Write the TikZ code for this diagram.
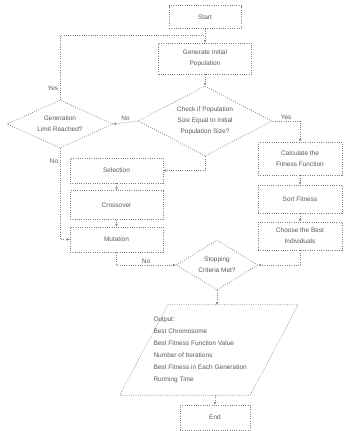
\documentclass[tikz,border=0pt]{standalone}
\usepackage{fontspec}
\setmainfont{Liberation Sans}
\usetikzlibrary{shapes.geometric,arrows.meta,calc}
\begin{document}
\begin{tikzpicture}[x=1pt,y=-1pt,
  ln/.style={draw=black!50, line width=0.75pt, dash pattern=on 0.75pt off 1.5pt},
  txt/.style={font=\fontsize{6.5}{11}\selectfont, text=black!65},
  proc/.style={ln, txt, rectangle, inner sep=1pt, align=center},
  dec/.style={ln, txt, diamond, inner sep=0pt, align=center},
  arr/.style={ln, -{Stealth[length=3pt,width=2.6pt]}},
  lbl/.style={txt, inner sep=1.5pt}]
\useasboundingbox (0,0) rectangle (343,431);
% nodes
\node[proc, minimum width=72pt, minimum height=23pt] (start) at (205,17) {Start};
\node[proc, minimum width=93pt, minimum height=31pt] (gen) at (205,58.5) {Generate Initial\\Population};
\node[dec, aspect=1.9, minimum width=134pt, minimum height=70pt] (cd) at (205,121) {Check if Population\\Size Equal to Initial\\Population Size?};
\node[dec, aspect=2.2, minimum width=106pt, minimum height=48pt] (ld) at (60,124) {Generation\\Limit Reached?};
\node[proc, minimum width=93pt, minimum height=25pt] (sel) at (116.5,170.5) {Selection};
\node[proc, minimum width=93pt, minimum height=29pt] (cro) at (116.5,205) {Crossover};
\node[proc, minimum width=93pt, minimum height=25pt] (mut) at (116.5,239.5) {Mutation};
\node[proc, minimum width=84pt, minimum height=33pt] (fit) at (300,158.5) {Calculate the\\Fitness Function};
\node[proc, minimum width=84pt, minimum height=28pt] (srt) at (300,199) {Sort Fitness};
\node[proc, minimum width=84pt, minimum height=28pt] (best) at (300,236) {Choose the Best\\Individuals};
\node[dec, aspect=1.64, minimum width=82pt, minimum height=50pt] (bd) at (217,265) {Stopping\\Criteria Met?};
\node[minimum width=178pt, minimum height=90pt, inner sep=0pt] (outp) at (209,350) {};
\draw[ln] ($(outp.north west)+(48,0)$) -- (outp.north east) -- ($(outp.south east)+(-48,0)$) -- (outp.south west) -- cycle;
\node[txt, font=\fontsize{6.5}{12}\selectfont, align=left, anchor=west] (outtxt) at (150,350) {Output:\\Best Chromosome\\Best Fitness Function Value\\Number of Iterations\\Best Fitness in Each Generation\\Running Time};
\node[proc, minimum width=70pt, minimum height=25pt] (stop) at (215,417.5) {End};
% connectors
\coordinate (j1) at ($(start.south)!0.5!(gen.north)$);
\draw[arr] (start.south) -- (gen.north);
\draw[ln] (ld.north) |- node[lbl, left, pos=0.09] {Yes} (j1);
\draw[arr] (gen.south) -- (cd.north);
\draw[arr] (cd.west) -- node[lbl, above] {No} (ld.east);
\draw[arr] (cd.east) -| node[lbl, above, pos=0.25] {Yes} (fit.north);
\draw[arr] (ld.south) |- node[lbl, left, pos=0.07] {No} (mut.west);
\draw[arr] (cd.south) |- (sel.east);
\draw[arr] (sel) -- (cro);
\draw[arr] (cro) -- (mut);
\draw[arr] (mut.south) |- node[lbl, above, pos=0.75] {No} (bd.west);
\draw[arr] (fit) -- (srt);
\draw[arr] (srt) -- (best);
\draw[arr] (best.south) |- (bd.east);
\draw[arr] (bd.south) -- (bd.south |- outp.north);
\draw[arr] (stop.north |- outp.south) -- (stop.north);
\end{tikzpicture}
\end{document}
